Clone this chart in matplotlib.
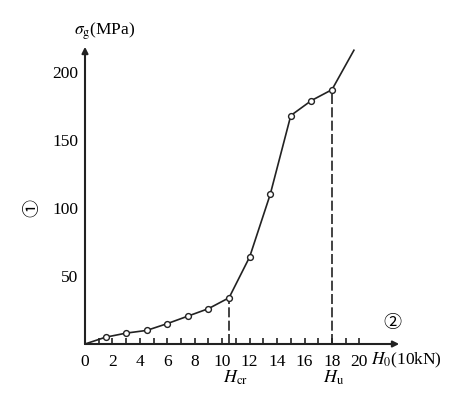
import matplotlib
matplotlib.use("Agg")
import matplotlib.pyplot as plt

plt.rcParams['font.family'] = ['Liberation Serif', 'DejaVu Serif']
plt.rcParams['mathtext.fontset'] = 'stix'

# data
H_load = [0, 1.5, 3, 4.5, 6, 7.5, 9, 10.5, 12, 13.5, 15, 16.5, 18, 19.6]
sigma_g = [0, 5, 8, 10, 15, 20.5, 26, 34, 64, 110, 168, 179, 187, 216]
marker_idx = list(range(1, 13))
x_ticks = list(range(0, 21, 2))
y_ticks = [50, 100, 150, 200]
H_cr = 10.5
H_u = 18
sigma_cr = 34
sigma_u = 187

W, Hh = 463, 398
fig = plt.figure(figsize=(W / 100, Hh / 100), dpi=100)
x0, y0 = 85, 344
sx, sy = 13.72, 1.36
xmax, ymax = 22.9, 218.5
ax = fig.add_axes([x0 / W, (Hh - y0) / Hh, xmax * sx / W, ymax * sy / Hh])
ax.set_xlim(0, xmax)
ax.set_ylim(0, ymax)
for s in ax.spines.values():
    s.set_visible(False)

# axes with arrows
ax.annotate('', xy=(xmax, 0), xytext=(0, 0),
            arrowprops=dict(arrowstyle='-|>', lw=1.5, color='#222222',
                            mutation_scale=9, shrinkA=0, shrinkB=0),
            annotation_clip=False)
ax.annotate('', xy=(0, ymax), xytext=(0, 0),
            arrowprops=dict(arrowstyle='-|>', lw=1.5, color='#222222',
                            mutation_scale=9, shrinkA=0, shrinkB=0),
            annotation_clip=False)

ax.set_xticks(x_ticks)
ax.set_xticks(list(range(1, 21, 2)), minor=True)
ax.tick_params(axis='x', which='both', direction='in', length=4, width=1.2,
               color='#222222', pad=7, labelsize=12.5)
ax.set_yticks(y_ticks)
ax.tick_params(axis='y', which='both', length=0, pad=5, labelsize=12.5)

# curve
ax.plot(H_load, sigma_g, color='#222222', lw=1.2, clip_on=False)
ax.plot([H_load[i] for i in marker_idx], [sigma_g[i] for i in marker_idx],
        ls='none', marker='o', ms=4.2, mfc='white', mec='#222222', mew=1.0,
        clip_on=False, zorder=3)

# dashed reference lines
ax.plot([H_cr, H_cr], [0, sigma_cr], color='#222222', lw=1.2, ls=(0, (6, 2)))
ax.plot([H_u, H_u], [0, sigma_u], color='#222222', lw=1.2, ls=(0, (6, 2)))

def fx(px):
    return px / W

def fy(py):
    return 1 - py / Hh

fig.text(fx(105), fy(31), r'$\sigma_{\rm g}$(MPa)', ha='center', va='center', fontsize=12.5)
fig.text(fx(371), fy(360), r'$H_{0}$(10kN)', ha='left', va='center', fontsize=12.5)
fig.text(fx(223), fy(378), r'$H_{\rm cr}$', ha='left', va='center', fontsize=13)
fig.text(fx(323), fy(378), r'$H_{\rm u}$', ha='left', va='center', fontsize=13)
fig.text(fx(32), fy(208), '①', ha='center', va='center', fontsize=13, rotation=90,
         family=['Noto Sans CJK SC', 'DejaVu Sans'])
fig.text(fx(392), fy(323), '②', ha='center', va='center', fontsize=13,
         family=['Noto Sans CJK SC', 'DejaVu Sans'])

fig.savefig('out.png', dpi=100)
